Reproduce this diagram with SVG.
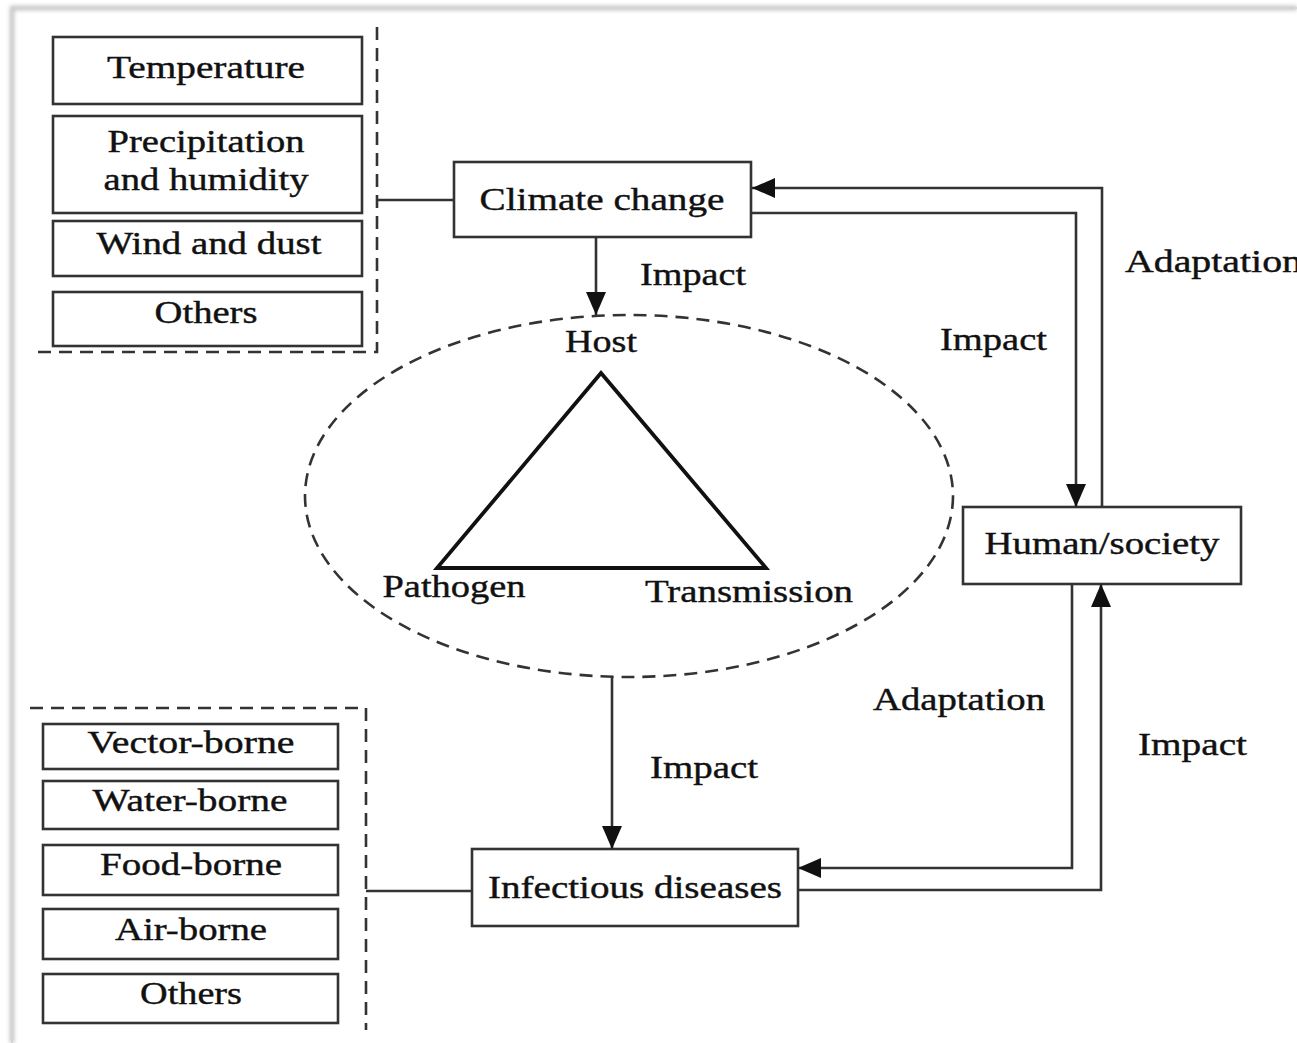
<svg xmlns="http://www.w3.org/2000/svg" width="1297" height="1043" viewBox="0 0 1297 1043">
<style>
.box{fill:#fff;stroke:#333;stroke-width:2.6}
.ln{fill:none;stroke:#333;stroke-width:2.6}
.dash{fill:none;stroke:#333;stroke-width:2.6;stroke-dasharray:13 8}
.t{font-family:"Liberation Serif","Times New Roman",serif;font-size:31px;fill:#111;stroke:#111;stroke-width:0.4;text-anchor:middle}
.l{font-family:"Liberation Serif","Times New Roman",serif;font-size:31px;fill:#111;stroke:#111;stroke-width:0.4}
</style>
<defs>
<marker id="ah" markerUnits="userSpaceOnUse" markerWidth="24" markerHeight="22" refX="23" refY="11" orient="auto">
<path d="M0,1 L23,11 L0,21 z" fill="#111"/>
</marker>
<filter id="sh" x="-5%" y="-5%" width="110%" height="110%"><feGaussianBlur stdDeviation="2"/></filter>
</defs>
<rect width="1297" height="1043" fill="#fff"/>
<path d="M12,1043 V8 H1297" fill="none" stroke="#bbb" stroke-width="4" filter="url(#sh)"/>
<path d="M12,1043 V8 H1297" fill="none" stroke="#d4d4d4" stroke-width="1.5"/>

<g id="climate-factors">
<path class="dash" d="M377,27 V352 H35"/>
<g id="n-temperature"><rect class="box" x="53" y="37" width="309" height="67"/><text class="t" x="206" y="78" textLength="198" lengthAdjust="spacingAndGlyphs">Temperature</text></g>
<g id="n-precip"><rect class="box" x="53" y="116" width="309" height="97"/><text class="t" x="206" y="152" textLength="197" lengthAdjust="spacingAndGlyphs">Precipitation</text><text class="t" x="206" y="190" textLength="205" lengthAdjust="spacingAndGlyphs">and humidity</text></g>
<g id="n-wind"><rect class="box" x="53" y="221" width="309" height="55"/><text class="t" x="209" y="254" textLength="225" lengthAdjust="spacingAndGlyphs">Wind and dust</text></g>
<g id="n-others1"><rect class="box" x="53" y="292" width="309" height="54"/><text class="t" x="206" y="323" textLength="103" lengthAdjust="spacingAndGlyphs">Others</text></g>
</g>

<g id="disease-types">
<path class="dash" d="M30,708 H366 V1030"/>
<g id="n-vector"><rect class="box" x="43" y="724" width="295" height="45"/><text class="t" x="191" y="753" textLength="207" lengthAdjust="spacingAndGlyphs">Vector-borne</text></g>
<g id="n-water"><rect class="box" x="43" y="781" width="295" height="48"/><text class="t" x="190" y="811" textLength="195" lengthAdjust="spacingAndGlyphs">Water-borne</text></g>
<g id="n-food"><rect class="box" x="43" y="845" width="295" height="50"/><text class="t" x="191" y="875" textLength="182" lengthAdjust="spacingAndGlyphs">Food-borne</text></g>
<g id="n-air"><rect class="box" x="43" y="909" width="295" height="50"/><text class="t" x="191" y="940" textLength="152" lengthAdjust="spacingAndGlyphs">Air-borne</text></g>
<g id="n-others2"><rect class="box" x="43" y="974" width="295" height="49"/><text class="t" x="191" y="1004" textLength="102" lengthAdjust="spacingAndGlyphs">Others</text></g>
</g>

<g id="n-climate"><rect class="box" x="454" y="162" width="297" height="75"/><text class="t" x="602" y="210" textLength="245" lengthAdjust="spacingAndGlyphs">Climate change</text></g>
<g id="n-human"><rect class="box" x="963" y="507" width="278" height="77"/><text class="t" x="1102" y="554" textLength="235" lengthAdjust="spacingAndGlyphs">Human/society</text></g>
<g id="n-infectious"><rect class="box" x="472" y="849" width="326" height="77"/><text class="t" x="635" y="898" textLength="294" lengthAdjust="spacingAndGlyphs">Infectious diseases</text></g>

<g id="n-triad">
<ellipse cx="629" cy="496" rx="324" ry="181" class="dash" stroke-dasharray="14 9"/>
<path d="M601,373 L437,568 L766,568 Z" fill="none" stroke="#111" stroke-width="3.8" stroke-linejoin="miter"/>
<text class="t" x="601" y="352" textLength="72" lengthAdjust="spacingAndGlyphs">Host</text>
<text class="t" x="454" y="597" textLength="143" lengthAdjust="spacingAndGlyphs">Pathogen</text>
<text class="t" x="749" y="602" textLength="208" lengthAdjust="spacingAndGlyphs">Transmission</text>
</g>

<g id="connectors">
<path class="ln" d="M377,200 H454"/>
<path class="ln" d="M596,237 V315" marker-end="url(#ah)"/>
<path class="ln" d="M1102,507 V188 H752" marker-end="url(#ah)"/>
<path class="ln" d="M751,213 H1076 V507" marker-end="url(#ah)"/>
<path class="ln" d="M612,676 V849" marker-end="url(#ah)"/>
<path class="ln" d="M1072,584 V868 H798" marker-end="url(#ah)"/>
<path class="ln" d="M798,890 H1101 V584" marker-end="url(#ah)"/>
<path class="ln" d="M366,891 H472"/>
</g>

<g id="labels">
<text class="l" x="640" y="285" textLength="106" lengthAdjust="spacingAndGlyphs">Impact</text>
<text class="l" x="1125" y="272" textLength="177" lengthAdjust="spacingAndGlyphs">Adaptation</text>
<text class="l" x="940" y="350" textLength="107" lengthAdjust="spacingAndGlyphs">Impact</text>
<text class="l" x="873" y="710" textLength="172" lengthAdjust="spacingAndGlyphs">Adaptation</text>
<text class="l" x="1138" y="755" textLength="109" lengthAdjust="spacingAndGlyphs">Impact</text>
<text class="l" x="650" y="778" textLength="108" lengthAdjust="spacingAndGlyphs">Impact</text>
</g>
</svg>
